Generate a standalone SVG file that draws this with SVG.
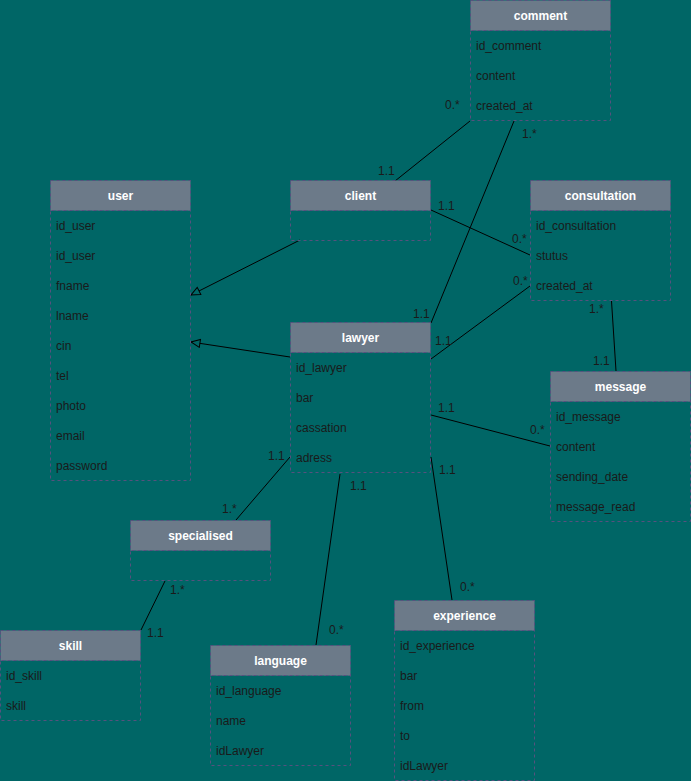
<svg xmlns="http://www.w3.org/2000/svg" width="691" height="781" viewBox="0 0 691 781">
<style>
.hdr{fill:#6c7a89;stroke:#56517e;stroke-dasharray:3 3;}
.body{fill:none;stroke:#56517e;stroke-dasharray:3 3;}
.ht{font-family:"Liberation Sans",Arial,sans-serif;font-size:12px;font-weight:bold;fill:#ffffff;text-anchor:middle;}
.at{font-family:"Liberation Sans",Arial,sans-serif;font-size:12px;fill:#1a1a1a;}
.lb{font-family:"Liberation Sans",Arial,sans-serif;font-size:12px;fill:#1a1a1a;}
.cn{stroke:#000;stroke-width:1;fill:none;}
</style>
<defs>
<marker id="inh" markerUnits="userSpaceOnUse" markerWidth="12" markerHeight="10" viewBox="0 0 12 10" refX="10.5" refY="5" orient="auto">
<path d="M1.5,1 L10.5,5 L1.5,9 Z" fill="#006666" stroke="#000" stroke-width="1"/>
</marker>
</defs>
<rect x="0" y="0" width="691" height="781" fill="#006666"/>

<g id="connectors">
<line class="cn" x1="470" y1="121" x2="395" y2="181"/>
<line class="cn" x1="514" y1="121" x2="431" y2="323"/>
<line class="cn" x1="431" y1="210" x2="530" y2="255"/>
<line class="cn" x1="530" y1="286" x2="431" y2="359"/>
<line class="cn" x1="300" y1="240" x2="191" y2="295" marker-end="url(#inh)"/>
<line class="cn" x1="290" y1="357" x2="191" y2="342" marker-end="url(#inh)"/>
<line class="cn" x1="611.5" y1="301" x2="616" y2="371"/>
<line class="cn" x1="431" y1="415" x2="550" y2="446"/>
<line class="cn" x1="431" y1="457" x2="452" y2="600"/>
<line class="cn" x1="340" y1="474" x2="316" y2="645"/>
<line class="cn" x1="290" y1="457" x2="236" y2="520"/>
<line class="cn" x1="165" y1="581" x2="141" y2="630"/>
<text class="lb" x="445" y="109">0.*</text>
<text class="lb" x="378" y="175">1.1</text>
<text class="lb" x="522" y="138">1.*</text>
<text class="lb" x="413" y="318">1.1</text>
<text class="lb" x="438" y="210">1.1</text>
<text class="lb" x="512" y="243">0.*</text>
<text class="lb" x="513" y="285">0.*</text>
<text class="lb" x="435" y="345">1.1</text>
<text class="lb" x="589" y="313">1.*</text>
<text class="lb" x="593" y="365">1.1</text>
<text class="lb" x="438" y="412">1.1</text>
<text class="lb" x="530" y="434">0.*</text>
<text class="lb" x="439" y="474">1.1</text>
<text class="lb" x="460" y="591">0.*</text>
<text class="lb" x="350" y="490">1.1</text>
<text class="lb" x="329" y="634">0.*</text>
<text class="lb" x="268" y="460">1.1</text>
<text class="lb" x="222" y="513">1.*</text>
<text class="lb" x="170" y="594">1.*</text>
<text class="lb" x="147" y="637">1.1</text>
</g>

<g id="comment">
<rect class="body" x="470.5" y="30.5" width="140" height="90"/>
<rect class="hdr" x="470.5" y="0.5" width="140" height="30"/>
<text class="ht" x="540.5" y="20">comment</text>
<text class="at" x="476" y="50">id_comment</text>
<text class="at" x="476" y="80">content</text>
<text class="at" x="476" y="110">created_at</text>
</g>

<g id="user">
<rect class="body" x="50.5" y="210.5" width="140" height="270"/>
<rect class="hdr" x="50.5" y="180.5" width="140" height="30"/>
<text class="ht" x="120.5" y="200">user</text>
<text class="at" x="56" y="230">id_user</text>
<text class="at" x="56" y="260">id_user</text>
<text class="at" x="56" y="290">fname</text>
<text class="at" x="56" y="320">lname</text>
<text class="at" x="56" y="350">cin</text>
<text class="at" x="56" y="380">tel</text>
<text class="at" x="56" y="410">photo</text>
<text class="at" x="56" y="440">email</text>
<text class="at" x="56" y="470">password</text>
</g>

<g id="client">
<rect class="body" x="290.5" y="210.5" width="140" height="30"/>
<rect class="hdr" x="290.5" y="180.5" width="140" height="30"/>
<text class="ht" x="360.5" y="200">client</text>
</g>

<g id="consultation">
<rect class="body" x="530.5" y="210.5" width="140" height="90"/>
<rect class="hdr" x="530.5" y="180.5" width="140" height="30"/>
<text class="ht" x="600.5" y="200">consultation</text>
<text class="at" x="536" y="230">id_consultation</text>
<text class="at" x="536" y="260">stutus</text>
<text class="at" x="536" y="290">created_at</text>
</g>

<g id="lawyer">
<rect class="body" x="290.5" y="352.5" width="140" height="120"/>
<rect class="hdr" x="290.5" y="322.5" width="140" height="30"/>
<text class="ht" x="360.5" y="342">lawyer</text>
<text class="at" x="296" y="372">id_lawyer</text>
<text class="at" x="296" y="402">bar</text>
<text class="at" x="296" y="432">cassation</text>
<text class="at" x="296" y="462">adress</text>
</g>

<g id="message">
<rect class="body" x="550.5" y="401.5" width="140" height="120"/>
<rect class="hdr" x="550.5" y="371.5" width="140" height="30"/>
<text class="ht" x="620.5" y="391">message</text>
<text class="at" x="556" y="421">id_message</text>
<text class="at" x="556" y="451">content</text>
<text class="at" x="556" y="481">sending_date</text>
<text class="at" x="556" y="511">message_read</text>
</g>

<g id="specialised">
<rect class="body" x="130.5" y="550.5" width="140" height="30"/>
<rect class="hdr" x="130.5" y="520.5" width="140" height="30"/>
<text class="ht" x="200.5" y="540">specialised</text>
</g>

<g id="skill">
<rect class="body" x="0.5" y="660.5" width="140" height="60"/>
<rect class="hdr" x="0.5" y="630.5" width="140" height="30"/>
<text class="ht" x="70.5" y="650">skill</text>
<text class="at" x="6" y="680">id_skill</text>
<text class="at" x="6" y="710">skill</text>
</g>

<g id="language">
<rect class="body" x="210.5" y="675.5" width="140" height="90"/>
<rect class="hdr" x="210.5" y="645.5" width="140" height="30"/>
<text class="ht" x="280.5" y="665">language</text>
<text class="at" x="216" y="695">id_language</text>
<text class="at" x="216" y="725">name</text>
<text class="at" x="216" y="755">idLawyer</text>
</g>

<g id="experience">
<rect class="body" x="394.5" y="630.5" width="140" height="150"/>
<rect class="hdr" x="394.5" y="600.5" width="140" height="30"/>
<text class="ht" x="464.5" y="620">experience</text>
<text class="at" x="400" y="650">id_experience</text>
<text class="at" x="400" y="680">bar</text>
<text class="at" x="400" y="710">from</text>
<text class="at" x="400" y="740">to</text>
<text class="at" x="400" y="770">idLawyer</text>
</g>
</svg>
